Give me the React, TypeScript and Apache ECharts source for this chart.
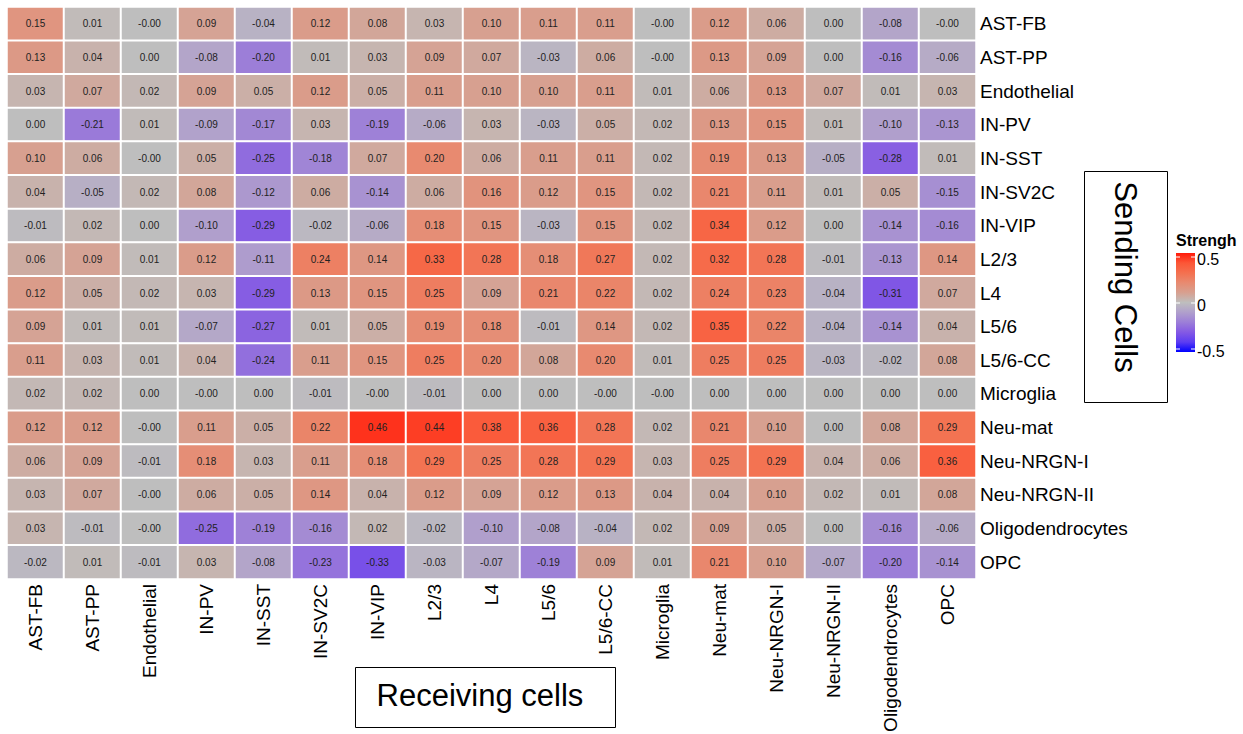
import React, { useEffect, useRef } from "react";
import * as echarts from "echarts";

const receivingCells = [
  "AST-FB", "AST-PP", "Endothelial", "IN-PV", "IN-SST", "IN-SV2C", "IN-VIP",
  "L2/3", "L4", "L5/6", "L5/6-CC", "Microglia", "Neu-mat", "Neu-NRGN-I",
  "Neu-NRGN-II", "Oligodendrocytes", "OPC",
];
const sendingCells = [...receivingCells];

// -0.001 stands for cells printed as "-0.00"
const rowASTFB = [0.15, 0.01, -0.001, 0.09, -0.04, 0.12, 0.08, 0.03, 0.10, 0.11, 0.11, -0.001, 0.12, 0.06, 0.00, -0.08, -0.001];
const rowASTPP = [0.13, 0.04, 0.00, -0.08, -0.20, 0.01, 0.03, 0.09, 0.07, -0.03, 0.06, -0.001, 0.13, 0.09, 0.00, -0.16, -0.06];
const rowEndothelial = [0.03, 0.07, 0.02, 0.09, 0.05, 0.12, 0.05, 0.11, 0.10, 0.10, 0.11, 0.01, 0.06, 0.13, 0.07, 0.01, 0.03];
const rowINPV = [0.00, -0.21, 0.01, -0.09, -0.17, 0.03, -0.19, -0.06, 0.03, -0.03, 0.05, 0.02, 0.13, 0.15, 0.01, -0.10, -0.13];
const rowINSST = [0.10, 0.06, -0.001, 0.05, -0.25, -0.18, 0.07, 0.20, 0.06, 0.11, 0.11, 0.02, 0.19, 0.13, -0.05, -0.28, 0.01];
const rowINSV2C = [0.04, -0.05, 0.02, 0.08, -0.12, 0.06, -0.14, 0.06, 0.16, 0.12, 0.15, 0.02, 0.21, 0.11, 0.01, 0.05, -0.15];
const rowINVIP = [-0.01, 0.02, 0.00, -0.10, -0.29, -0.02, -0.06, 0.18, 0.15, -0.03, 0.15, 0.02, 0.34, 0.12, 0.00, -0.14, -0.16];
const rowL23 = [0.06, 0.09, 0.01, 0.12, -0.11, 0.24, 0.14, 0.33, 0.28, 0.18, 0.27, 0.02, 0.32, 0.28, -0.01, -0.13, 0.14];
const rowL4 = [0.12, 0.05, 0.02, 0.03, -0.29, 0.13, 0.15, 0.25, 0.09, 0.21, 0.22, 0.02, 0.24, 0.23, -0.04, -0.31, 0.07];
const rowL56 = [0.09, 0.01, 0.01, -0.07, -0.27, 0.01, 0.05, 0.19, 0.18, -0.01, 0.14, 0.02, 0.35, 0.22, -0.04, -0.14, 0.04];
const rowL56CC = [0.11, 0.03, 0.01, 0.04, -0.24, 0.11, 0.15, 0.25, 0.20, 0.08, 0.20, 0.01, 0.25, 0.25, -0.03, -0.02, 0.08];
const rowMicroglia = [0.02, 0.02, 0.00, -0.001, 0.00, -0.01, -0.001, -0.01, 0.00, 0.00, -0.001, -0.001, 0.00, 0.00, 0.00, 0.00, 0.00];
const rowNeuMat = [0.12, 0.12, -0.001, 0.11, 0.05, 0.22, 0.46, 0.44, 0.38, 0.36, 0.28, 0.02, 0.21, 0.10, 0.00, 0.08, 0.29];
const rowNeuNRGNI = [0.06, 0.09, -0.01, 0.18, 0.03, 0.11, 0.18, 0.29, 0.25, 0.28, 0.29, 0.03, 0.25, 0.29, 0.04, 0.06, 0.36];
const rowNeuNRGNII = [0.03, 0.07, -0.001, 0.06, 0.05, 0.14, 0.04, 0.12, 0.09, 0.12, 0.13, 0.04, 0.04, 0.10, 0.02, 0.01, 0.08];
const rowOligo = [0.03, -0.01, -0.001, -0.25, -0.19, -0.16, 0.02, -0.02, -0.10, -0.08, -0.04, 0.02, 0.09, 0.05, 0.00, -0.16, -0.06];
const rowOPC = [-0.02, 0.01, -0.01, 0.03, -0.08, -0.23, -0.33, -0.03, -0.07, -0.19, 0.09, 0.01, 0.21, 0.10, -0.07, -0.20, -0.14];

const strengthRows = [
  rowASTFB, rowASTPP, rowEndothelial, rowINPV, rowINSST, rowINSV2C, rowINVIP,
  rowL23, rowL4, rowL56, rowL56CC, rowMicroglia, rowNeuMat, rowNeuNRGNI,
  rowNeuNRGNII, rowOligo, rowOPC,
];

const legendTicks = ["0.5", "0", "-0.5"];
const scaleMin = -0.5;
const scaleMax = 0.5;

const colorStops = [
  "#0000ff", "#5c3cf2", "#8459e4", "#9c7ed8", "#b09fcc", "#bebebe",
  "#d7a090", "#e88a70", "#f4704f", "#fc5636", "#ff1a0a",
];

const FONT = "'Liberation Sans', Arial, Helvetica, sans-serif";

export default function App() {
  const ref = useRef<HTMLDivElement>(null);

  useEffect(() => {
    document.body.style.margin = "0";
    if (!ref.current) return;
    const chart = echarts.init(ref.current, null, { renderer: "svg" });

    const data: [number, number, number][] = [];
    strengthRows.forEach((row, yi) => {
      row.forEach((v, xi) => data.push([xi, yi, v]));
    });

    const barX = 1176;
    const barY = 253;
    const barW = 19;
    const barH = 99;
    const tickYs = [257, 303, 349];

    const gradient = new echarts.graphic.LinearGradient(
      0, 0, 0, 1,
      colorStops
        .slice()
        .reverse()
        .map((c, i) => ({ offset: i / (colorStops.length - 1), color: c }))
    );

    const graphics: any[] = [
      {
        type: "rect",
        shape: { x: barX, y: barY, width: barW, height: barH },
        style: { fill: gradient },
        silent: true,
      },
      {
        type: "text",
        style: {
          x: barX,
          y: 240,
          text: "Strengh",
          font: `bold 16px ${FONT}`,
          fill: "#000",
          verticalAlign: "middle",
        },
      },
    ];
    legendTicks.forEach((t, i) => {
      graphics.push({
        type: "line",
        shape: { x1: barX, y1: tickYs[i], x2: barX + 4, y2: tickYs[i] },
        style: { stroke: "#fff", lineWidth: 1 },
      });
      graphics.push({
        type: "line",
        shape: { x1: barX + barW - 4, y1: tickYs[i], x2: barX + barW, y2: tickYs[i] },
        style: { stroke: "#fff", lineWidth: 1 },
      });
      graphics.push({
        type: "text",
        style: {
          x: barX + barW + 2,
          y: tickYs[i] + 2,
          text: t,
          font: `16px ${FONT}`,
          fill: "#000",
          verticalAlign: "middle",
        },
      });
    });
    // Receiving cells box
    graphics.push({
      type: "rect",
      shape: { x: 355.5, y: 667.5, width: 260, height: 60 },
      style: { fill: "#fff", stroke: "#000", lineWidth: 1 },
    });
    graphics.push({
      type: "text",
      style: {
        x: 480,
        y: 695,
        text: "Receiving cells",
        font: `31px ${FONT}`,
        fill: "#000",
        align: "center",
        verticalAlign: "middle",
      },
    });
    // Sending cells box
    graphics.push({
      type: "rect",
      shape: { x: 1084.5, y: 171.5, width: 83, height: 231 },
      style: { fill: "#fff", stroke: "#000", lineWidth: 1 },
    });
    graphics.push({
      type: "text",
      x: 1125,
      y: 277,
      rotation: -Math.PI / 2,
      style: {
        x: 0,
        y: 0,
        text: "Sending Cells",
        font: `31px ${FONT}`,
        fill: "#000",
        align: "center",
        verticalAlign: "middle",
      },
    });

    chart.setOption({
      animation: false,
      backgroundColor: "#fff",
      textStyle: { fontFamily: FONT },
      grid: {
        left: 7,
        top: 7,
        width: 969,
        height: 572,
        containLabel: false,
        outerBoundsMode: "none",
      },
      xAxis: {
        type: "category",
        data: receivingCells,
        position: "bottom",
        axisLine: { show: false },
        axisTick: { show: false },
        splitLine: { show: false },
        axisLabel: {
          rotate: 90,
          interval: 0,
          margin: 5,
          fontSize: 19,
          color: "#000",
          fontFamily: FONT,
        },
      },
      yAxis: {
        type: "category",
        data: sendingCells,
        position: "right",
        inverse: true,
        axisLine: { show: false },
        axisTick: { show: false },
        splitLine: { show: false },
        axisLabel: {
          interval: 0,
          margin: 4,
          fontSize: 19,
          color: "#000",
          fontFamily: FONT,
        },
      },
      visualMap: {
        type: "continuous",
        show: false,
        min: scaleMin,
        max: scaleMax,
        dimension: 2,
        inRange: { color: colorStops },
      },
      series: [
        {
          type: "heatmap",
          data,
          itemStyle: { borderColor: "#fff", borderWidth: 2 },
          label: {
            show: true,
            formatter: (p: any) => (p.value[2] as number).toFixed(2),
            fontSize: 10,
            color: "#222",
            fontFamily: FONT,
          },
          emphasis: { disabled: true },
        },
      ],
      graphic: graphics,
    });

    return () => chart.dispose();
  }, []);

  return <div ref={ref} style={{ width: 1243, height: 734 }} />;
}
